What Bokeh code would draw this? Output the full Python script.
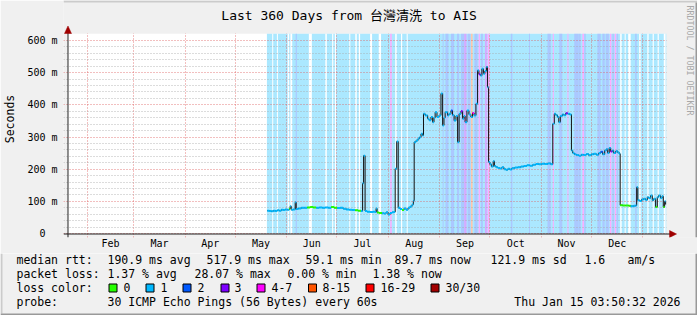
import math
from bokeh.plotting import figure
from bokeh.layouts import column
from bokeh.models import ColumnDataSource, Range1d, FixedTicker
from bokeh.core.properties import value
from bokeh.embed import file_html
from bokeh.resources import INLINE

# ---------------- data (x = days since 2025-01-01 00:00) ----------------
view_start = 19.16   # Mon Jan 20 2025 03:50
view_end = 379.16    # Thu Jan 15 2026 03:50

title_text = "Last 360 Days from 台灣清洗 to AIS"
month_starts = [31, 59, 90, 120, 151, 181, 212, 243, 273, 304, 334, 365]
month_names = ["Feb", "Mar", "Apr", "May", "Jun", "Jul", "Aug", "Sep", "Oct", "Nov", "Dec"]

y_ticks = [0, 100, 200, 300, 400, 500, 600]
y_tick_text = ["0\u00a0\u00a0", "100 m", "200 m", "300 m", "400 m", "500 m", "600 m"]
y_top = 621.8

rtt_day = [139.2, 140.4, 141.6, 142.8, 144.0, 145.2, 146.4, 147.6, 148.8, 150.0,
           151.2, 152.4, 153.0, 153.6, 154.8, 156.0, 156.6, 157.8, 159.6, 161.4,
           163.2, 165.0, 166.8, 168.6, 170.4, 172.2, 174.0, 175.8, 177.6, 179.4,
           181.2, 183.0, 184.8, 186.6, 188.4, 190.2, 192.0, 193.8, 195.6, 196.5,
           197.1, 198.0, 199.2, 201.0, 202.8, 204.0, 204.6, 205.2, 206.4, 208.2,
           209.4, 210.6, 211.8, 213.0, 214.2, 215.4, 216.1, 217.0, 217.9, 219.0,
           220.2, 221.4, 222.6, 223.8, 225.0, 226.2, 227.0, 227.5, 228.6, 229.8,
           230.7, 231.6, 232.5, 233.1, 234.1, 235.6, 236.4, 237.6, 238.6, 239.4,
           240.1, 241.2, 242.4, 243.6, 244.6, 245.4, 246.1, 247.6, 248.4, 249.6,
           250.5, 251.5, 252.6, 253.6, 254.5, 255.6, 256.6, 257.4, 258.1, 259.2,
           260.4, 261.6, 262.6, 263.5, 264.6, 265.6, 266.4, 267.3, 268.2, 269.1,
           270.0, 270.9, 271.6, 272.2, 273.0, 273.9, 275.0, 275.7, 276.6, 277.8,
           279.0, 280.2, 281.4, 282.6, 283.8, 285.0, 286.2, 288.0, 289.8, 291.6,
           293.4, 295.2, 297.0, 298.8, 300.6, 302.4, 304.2, 306.0, 307.8, 309.6,
           310.8, 311.7, 312.6, 313.6, 314.4, 315.3, 316.5, 317.4, 318.6, 319.8,
           321.0, 322.0, 322.8, 323.7, 324.9, 326.4, 327.9, 329.4, 330.9, 332.4,
           333.9, 335.4, 336.9, 338.4, 339.6, 340.8, 342.0, 342.9, 343.8, 344.7,
           345.6, 346.6, 347.4, 348.6, 349.8, 350.7, 351.3, 352.8, 354.6, 356.4,
           357.6, 359.4, 360.6, 361.2, 361.9, 363.0, 364.2, 365.4, 366.6, 367.6,
           368.4, 369.6, 370.6, 371.4, 372.6, 373.6, 374.4, 375.6, 376.5, 377.2,
           378.0, 378.6]

rtt_ms = [71, 70, 69, 71, 70, 72, 71, 74, 73, 75,
          74, 77, 85, 74, 75, 97, 76, 78, 80, 80,
          81, 82, 81, 80, 81, 80, 81, 80, 82, 80,
          79, 80, 77, 75, 74, 73, 72, 71, 70, 156,
          242, 70, 68, 67, 68, 67, 78, 65, 64, 63,
          62, 66, 59, 64, 66, 67, 201, 286, 80, 76,
          73, 78, 74, 80, 84, 90, 102, 284, 289, 295,
          299, 310, 305, 372, 367, 357, 352, 362, 346, 360,
          377, 362, 367, 435, 336, 360, 377, 367, 372, 382,
          368, 351, 365, 284, 372, 380, 357, 365, 346, 382,
          370, 362, 375, 367, 403, 507, 495, 491, 512, 497,
          505, 518, 455, 222, 215, 208, 225, 210, 206, 204,
          202, 206, 200, 198, 201, 199, 203, 205, 206, 208,
          210, 212, 211, 214, 216, 215, 217, 216, 218, 215,
          341, 372, 368, 362, 346, 365, 370, 368, 374, 372,
          370, 258, 250, 246, 244, 242, 245, 244, 247, 243,
          246, 248, 245, 250, 254, 246, 258, 262, 250, 266,
          255, 258, 250, 256, 252, 248, 88, 87, 87, 86,
          85, 86, 87, 144, 103, 101, 106, 108, 104, 113,
          110, 118, 103, 108, 82, 113, 118, 110, 116, 82,
          100, 90]

rtt_loss = [1, 1, 1, 1, 1, 1, 1, 1, 1, 1,
            1, 0, 1, 1, 1, 1, 1, 1, 1, 1,
            0, 0, 0, 1, 1, 1, 1, 1, 0, 0,
            1, 1, 1, 1, 1, 1, 0, 0, 1, 1,
            1, 1, 1, 1, 1, 1, 1, 0, 0, 1,
            1, 1, 1, 1, 1, 1, 1, 1, 1, 1,
            0, 1, 1, 1, 1, 1, 1, 1, 1, 1,
            1, 1, 1, 1, 1, 1, 1, 1, 1, 1,
            1, 1, 1, 1, 1, 1, 1, 1, 1, 2,
            1, 1, 1, 1, 1, 3, 1, 1, 1, 1,
            1, 1, 4, 1, 1, 1, 3, 1, 1, 1,
            1, 1, 1, 1, 1, 1, 1, 1, 1, 1,
            1, 1, 1, 1, 1, 1, 1, 1, 1, 1,
            1, 1, 1, 1, 1, 1, 1, 1, 1, 1,
            1, 1, 1, 1, 1, 1, 1, 1, 3, 1,
            1, 1, 1, 1, 1, 1, 1, 1, 1, 1,
            1, 1, 1, 1, 2, 1, 1, 1, 1, 1,
            3, 1, 1, 1, 1, 1, 0, 0, 0, 0,
            1, 1, 1, 1, 1, 1, 1, 1, 1, 1,
            1, 1, 1, 1, 0, 1, 1, 1, 1, 0,
            1, 1]

# packet-loss background: measured span, loss-free gaps, and other loss classes
data_start = 139.0
gap_start = [142.2, 145.0, 151.5, 153.1, 164.2, 174.1, 178.2, 179.8, 188.5, 192.1, 194.2, 201.0,
             206.2, 216.1, 219.6, 223.0, 351.3, 354.0, 356.1, 362.7, 367.6, 370.8, 373.8, 377.5]
gap_end = [142.8, 145.6, 152.4, 154.2, 166.0, 175.0, 178.9, 180.6, 189.1, 193.0, 195.0, 202.2,
           207.6, 217.0, 220.3, 223.6, 352.2, 354.6, 357.6, 363.6, 368.4, 371.5, 374.5, 378.6]
band_start = [156.3, 213.1, 244.6, 246.3, 249.6, 253.2, 255.6, 257.5, 259.6, 261.6, 263.7,
              266.2, 267.6, 270.0, 271.6, 285.6, 296.5, 307.6, 310.8, 314.7, 319.6, 323.7,
              326.5, 328.6, 329.7, 337.6, 340.6, 342.6, 345.1, 346.6, 348.0, 349.2, 360.3]
band_end = [157.0, 214.0, 245.2, 248.1, 251.5, 254.5, 257.5, 259.0, 261.3, 262.6, 265.6,
            267.0, 268.8, 271.2, 272.7, 286.5, 297.1, 309.6, 311.4, 316.5, 320.2, 326.4,
            327.6, 329.5, 330.6, 339.6, 342.0, 344.5, 346.0, 347.5, 348.9, 350.1, 361.2]
band_loss = [2, 4, 2, 2, 2, 2, 2, 3, 2, 5, 2, 4, 2, 3, 4, 2, 2, 2, 4, 2, 4, 2, 2, 4, 2,
             2, 2, 2, 4, 2, 4, 2, 2]

loss_labels = ["0", "1", "2", "3", "4-7", "8-15", "16-29", "30/30"]
loss_colors = ["#26ff00", "#00b8ff", "#0059ff", "#7e00ff", "#ff00ff", "#ff5500", "#ff0000", "#a10000"]

row_median = ["median rtt:", "190.9 ms avg", "517.9 ms max", "59.1 ms min", "89.7 ms now",
              "121.9 ms sd", "1.6", "am/s"]
row_loss = ["packet loss:", "1.37 % avg", "28.07 % max", "0.00 % min", "1.38 % now"]
row_color = "loss color:"
row_probe = ["probe:", "30 ICMP Echo Pings (56 Bytes) every 60s"]
stamp = "Thu Jan 15 03:50:32 2026"
watermark = "RRDTOOL / TOBI OETIKER"

# ---------------- layout helpers (canvas pixels -> data units) ----------------
MONO = "'DejaVu Sans Mono', 'Noto Sans CJK TC', monospace"
BACK = "#f0f0f0"
PX_DAY = 0.6            # days per pixel  (600 px = 360 days)
PX_MS = 600.0 / 193.0   # ms per pixel
SPLIT = 253             # canvas row where the legend strip starts


def px2x(cx):
    return view_start + (cx - 66) * PX_DAY


def px2y(cy):
    return (233 - cy) * PX_MS


def pale(hexcol, a=0.33):
    r, g, b = (int(hexcol[i:i + 2], 16) for i in (1, 3, 5))
    f = lambda c: int(round(a * c + (1 - a) * 255))
    return "#%02x%02x%02x" % (f(r), f(g), f(b))


x_start, x_end = px2x(62), px2x(697)
y_start, y_end = px2y(237), px2y(0)

p = figure(width=697, height=SPLIT, output_backend="svg", toolbar_location=None,
           x_range=Range1d(x_start, x_end), y_range=Range1d(y_start, y_end),
           min_border_left=62, min_border_right=0, min_border_top=0,
           min_border_bottom=SPLIT - 237,
           background_fill_color=BACK, border_fill_color=BACK)
p.outline_line_color = None
p.frame_align = False

# plot canvas + packet-loss background
r0 = p.quad(left=[view_start], right=[view_end], bottom=[0], top=[y_top],
            fill_color="white", line_color=None)
r0.level = "image"
left = [data_start] + gap_start + band_start
right = [view_end] + gap_end + band_end
cols = [pale(loss_colors[1])] + ["white"] * len(gap_start) + [pale(loss_colors[k]) for k in band_loss]
bg = ColumnDataSource(dict(left=left, right=right, color=cols))
rq = p.quad(left="left", right="right", bottom=0, top=y_top, fill_color="color",
            line_color=None, source=bg)
rq.level = "image"

# grids
p.xgrid.ticker = FixedTicker(ticks=month_starts)
p.xgrid.grid_line_color = "#e06060"
p.xgrid.grid_line_alpha = 0.8
p.xgrid.grid_line_dash = "1 2"
y_minor = [v for v in range(20, 620, 20) if v % 100]
p.ygrid.grid_line_color = "#e06060"
p.ygrid.grid_line_alpha = 0.8
p.ygrid.grid_line_dash = "1 2"
p.ygrid.minor_grid_line_color = "#a8a8a8"
p.ygrid.minor_grid_line_alpha = 0.8
p.ygrid.minor_grid_line_dash = "1 2"

# masks outside the plot canvas (grey border area inside the frame)
p.quad(left=[view_end, x_start], right=[x_end, view_end], bottom=[y_start, y_top],
       top=[y_end, y_end], fill_color=BACK, line_color=None)

# median rtt
p.step(rtt_day, rtt_ms, mode="after", line_color="#111111", line_width=1)
seg = ColumnDataSource(dict(x0=rtt_day[:-1], x1=rtt_day[1:], y=rtt_ms[:-1],
                            c=[loss_colors[k] for k in rtt_loss[:-1]]))
p.segment(x0="x0", y0="y", x1="x1", y1="y", source=seg, line_color="c", line_width=2)

# axis lines and arrows
axis_col, arrow_col = "#202020", "#a00000"
p.segment(x0=[px2x(66.5), px2x(62)], y0=[px2y(237), px2y(233.5)],
          x1=[px2x(66.5), px2x(670)], y1=[px2y(31), px2y(233.5)],
          line_color=axis_col, line_width=1)
p.patches(xs=[[px2x(66.5), px2x(63), px2x(70)], [px2x(676), px2x(669), px2x(669)]],
          ys=[[px2y(25.5), px2y(33), px2y(33)], [px2y(233.5), px2y(230), px2y(237)]],
          fill_color=arrow_col, line_color=arrow_col, line_width=0.5)

# title, watermark, shade border
p.text(x=[px2x(348)], y=[px2y(15)], text=[title_text], text_font=value(MONO),
       text_font_size=value("13px"), text_align="center", text_baseline="middle",
       text_color="black")
p.text(x=[px2x(689)], y=[px2y(5)], text=[watermark], text_font=value(MONO),
       text_font_size=value("8.3px"), text_align="left", text_baseline="middle",
       text_color="#a8a8a8", angle=-math.pi / 2)
p.quad(left=[x_start], right=[x_end], top=[y_end], bottom=[px2y(2)],
       fill_color="#cbcbcb", line_color=None)
p.quad(left=[px2x(695)], right=[x_end], top=[px2y(2)], bottom=[y_start],
       fill_color="#999999", line_color=None)

# axes
label_pos = [(a + b) / 2 for a, b in zip(month_starts[:-1], month_starts[1:])]
p.xaxis.ticker = FixedTicker(ticks=label_pos)
p.xaxis.major_label_overrides = {pos: name for pos, name in zip(label_pos, month_names)}
p.xaxis.major_tick_line_color = None
p.xaxis.minor_tick_line_color = None
p.xaxis.major_tick_out = 0
p.xaxis.major_tick_in = 0
p.xaxis.major_label_standoff = 0
p.xaxis.axis_line_color = None
p.xaxis.major_label_text_font = MONO
p.xaxis.major_label_text_font_size = "10px"
p.xaxis.major_label_text_color = "black"

p.yaxis.ticker = FixedTicker(ticks=y_ticks, minor_ticks=y_minor)
p.yaxis.major_label_overrides = {v: t for v, t in zip(y_ticks, y_tick_text)}
p.yaxis.major_tick_line_color = None
p.yaxis.minor_tick_line_color = None
p.yaxis.major_tick_out = 0
p.yaxis.major_tick_in = 0
p.yaxis.major_label_standoff = 2
p.yaxis.axis_line_color = None
p.yaxis.major_label_text_font = MONO
p.yaxis.major_label_text_font_size = "10px"
p.yaxis.major_label_text_color = "black"
p.yaxis.axis_label = "Seconds"
p.yaxis.axis_label_text_font = MONO
p.yaxis.axis_label_text_font_size = "11.5px"
p.yaxis.axis_label_text_font_style = "normal"
p.yaxis.axis_label_text_color = "black"
p.yaxis.axis_label_standoff = 7

# ---------------- legend strip below the chart ----------------
q = figure(width=697, height=315 - SPLIT, output_backend="svg", toolbar_location=None,
           x_range=Range1d(0, 697), y_range=Range1d(315, SPLIT),
           x_axis_location=None, y_axis_location=None, min_border=0,
           background_fill_color=BACK, border_fill_color=BACK)
q.outline_line_color = None
q.grid.visible = False
q.frame_align = False

tx, ty, tt = [], [], []
for t, x in zip(row_median, [16, 107, 206, 305, 394, 490, 584, 627]):
    tx.append(x); ty.append(259); tt.append(t)
for t, x in zip(row_loss, [16, 107, 194, 287, 372]):
    tx.append(x); ty.append(273); tt.append(t)
tx.append(16); ty.append(287); tt.append(row_color)
square_x = [108, 145, 182, 220, 256, 307.5, 365, 430]
for t, x in zip(loss_labels, [123, 160, 197, 234, 271, 322, 380, 445]):
    tx.append(x); ty.append(287); tt.append(t)
for t, x in zip(row_probe, [16, 107]):
    tx.append(x); ty.append(301); tt.append(t)
q.text(x=tx, y=ty, text=tt, text_font=value(MONO), text_font_size=value("11.5px"),
       text_align="left", text_baseline="middle", text_color="black")
q.text(x=[680], y=[301], text=[stamp], text_font=value(MONO), text_font_size=value("11.5px"),
       text_align="right", text_baseline="middle", text_color="black")
q.quad(left=[x + 0.5 for x in square_x], right=[x + 8.5 for x in square_x],
       top=[283.5] * len(square_x), bottom=[291.5] * len(square_x),
       fill_color=loss_colors, line_color="black", line_width=1)
# shade border
q.quad(left=[0], right=[2], top=[SPLIT], bottom=[313], fill_color="#cbcbcb", line_color=None)
q.quad(left=[695, 0], right=[697, 697], top=[SPLIT, 313], bottom=[315, 315],
       fill_color="#999999", line_color=None)

layout = column(p, q, spacing=0)
open("out.html", "w").write(file_html(layout, INLINE))
